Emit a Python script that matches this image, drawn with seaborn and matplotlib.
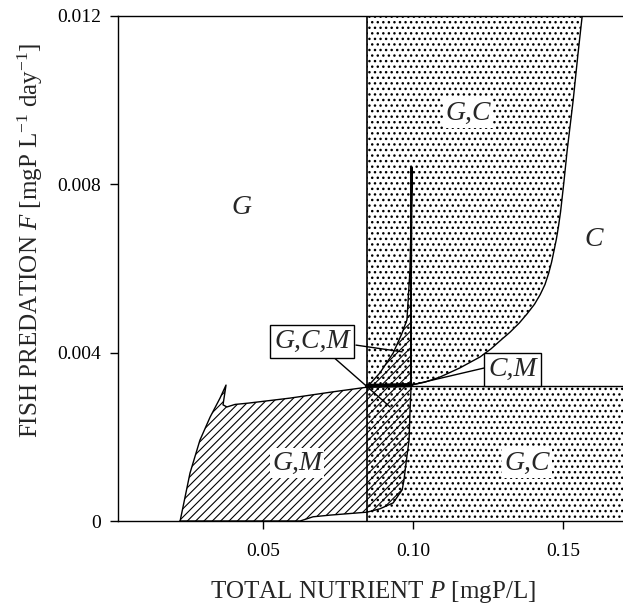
import matplotlib
matplotlib.use("Agg")
import matplotlib.pyplot as plt
import seaborn as sns

# ---------------- data ----------------
x_ticks = [0.05, 0.10, 0.15]
x_tick_labels = ["0.05", "0.10", "0.15"]
y_ticks = [0.0, 0.004, 0.008, 0.012]
y_tick_labels = ["0", "0.004", "0.008", "0.012"]

P_split = 0.0847     # vertical boundary (G,C region begins)
F_split = 0.00321    # horizontal boundary
P_spike = 0.0994     # right edge of G,C,M region
F_top = 0.012
P_right = 0.2

# C boundary curve (right edge of upper G,C region)
c_curve_P = [0.0994, 0.1040, 0.1090, 0.1157, 0.1224, 0.1260, 0.1290, 0.1324,
             0.1355, 0.1380, 0.1405, 0.1424, 0.1440, 0.1452, 0.1462, 0.1470,
             0.1478, 0.1485, 0.1492, 0.1503, 0.1514, 0.1534, 0.1550, 0.1564]
c_curve_F = [0.00323, 0.00330, 0.00342, 0.00364, 0.00390, 0.00409, 0.00428, 0.00449,
             0.00471, 0.00492, 0.00515, 0.00538, 0.00562, 0.00588, 0.00615, 0.00642,
             0.00670, 0.00700, 0.00735, 0.00805, 0.00881, 0.01000, 0.01110, 0.01200]

# M region boundary (G,M plus G,C,M), closed polygon
m_region_P = [0.0224, 0.0257, 0.0290, 0.0324, 0.0357, 0.0377, 0.0367, 0.0380,
              0.0407, 0.0450, 0.0590, 0.0734, 0.0847, 0.0890, 0.0934, 0.0964,
              0.0980, 0.0990, 0.0994, 0.0997, 0.0994, 0.0994, 0.0990, 0.0987,
              0.0977, 0.0970, 0.0964, 0.0934, 0.0890, 0.0847, 0.0724, 0.0667,
              0.0624, 0.0224]
m_region_F = [0.0, 0.00114, 0.00192, 0.00247, 0.00292, 0.00323, 0.00276, 0.00271,
              0.00277, 0.00280, 0.00292, 0.00307, 0.00318, 0.00352, 0.00399, 0.00447,
              0.00478, 0.00596, 0.00715, 0.00841, 0.00525, 0.00323, 0.00257, 0.00192,
              0.00138, 0.00097, 0.00074, 0.00043, 0.00029, 0.00021, 0.00014, 0.00010,
              0.0, 0.0]

# region labels
region_labels = ["G", "G,C", "C", "G,M", "G,C"]
region_P = [0.0427, 0.1184, 0.1604, 0.0614, 0.1380]
region_F = [0.00744, 0.00969, 0.00668, 0.00138, 0.00138]

# boxed labels and their leader lines
box_labels = ["G,C,M", "C,M"]
box_P = [0.0664, 0.1332]
box_F = [0.00426, 0.00360]
leader_P = [[0.0810, 0.0964], [0.0734, 0.0924], [0.1240, 0.0994]]
leader_F = [[0.00418, 0.00402], [0.00390, 0.00271], [0.00364, 0.00323]]

# ---------------- style ----------------
sns.set_style("ticks")
plt.rcParams["font.family"] = ["Liberation Serif", "DejaVu Serif"]
plt.rcParams["mathtext.fontset"] = "custom"
plt.rcParams["mathtext.rm"] = "Liberation Serif"
plt.rcParams["mathtext.it"] = "Liberation Serif:italic"
plt.rcParams["mathtext.bf"] = "Liberation Serif:bold"

fig = plt.figure(figsize=(6.23, 6.06), dpi=100)
ax = fig.add_axes([118 / 623, 85 / 606, 520 / 623, 505 / 606])

# dotted regions (G,C)
plt.rcParams["hatch.linewidth"] = 1.0
upper_P = [P_split, P_split] + c_curve_P[::-1]
upper_F = [F_split, F_top] + c_curve_F[::-1]
ax.fill(upper_P, upper_F, facecolor="white", edgecolor="black", linewidth=0, hatch="...")
ax.fill([P_split, P_split, P_right, P_right], [0, F_split, F_split, 0],
        facecolor="white", edgecolor="black", linewidth=0, hatch="...")

# hatched M region
plt.rcParams["hatch.linewidth"] = 0.8
ax.fill(m_region_P, m_region_F, facecolor="none", edgecolor="black", linewidth=0, hatch="////")

# boundary lines
line_kw = dict(color="black", sort=False, estimator=None, legend=False, ax=ax)
sns.lineplot(x=m_region_P, y=m_region_F, linewidth=1.0, **line_kw)
sns.lineplot(x=c_curve_P, y=c_curve_F, linewidth=1.0, **line_kw)
sns.lineplot(x=[P_split, P_split], y=[0, F_top], linewidth=1.2, **line_kw)
sns.lineplot(x=[P_split, P_right], y=[F_split, F_split], linewidth=1.0, **line_kw)
sns.lineplot(x=[P_spike, P_spike], y=[F_split, 0.00841], linewidth=1.4, **line_kw)
sns.lineplot(x=[P_split, P_spike], y=[F_split, 0.00323], linewidth=3.0, **line_kw)
for lp, lf in zip(leader_P, leader_F):
    sns.lineplot(x=lp, y=lf, linewidth=1.0, **line_kw)

# labels
for t, px, py in zip(region_labels, region_P, region_F):
    ax.text(px, py, t, fontsize=20, style="italic", ha="center", va="center",
            bbox=dict(boxstyle="square,pad=0.08", facecolor="white",
                      edgecolor="none"))
for t, px, py in zip(box_labels, box_P, box_F):
    ax.text(px, py, t, fontsize=20, style="italic", ha="center", va="center",
            bbox=dict(boxstyle="square,pad=0.15", facecolor="white",
                      edgecolor="black", linewidth=1.0))

ax.set_xlim(0.0017, 0.175)
ax.set_ylim(0, F_top)
ax.set_xticks(x_ticks)
ax.set_xticklabels(x_tick_labels)
ax.set_yticks(y_ticks)
ax.set_yticklabels(y_tick_labels)
ax.tick_params(axis="both", direction="out", length=6, width=1.0, labelsize=14,
               color="black", labelcolor="black")
ax.tick_params(axis="x", pad=10)
ax.tick_params(axis="y", pad=6)

for s in ["left", "bottom", "top"]:
    ax.spines[s].set_visible(True)
    ax.spines[s].set_color("black")
    ax.spines[s].set_linewidth(1.0)
ax.spines["right"].set_visible(False)

ax.set_xlabel("TOTAL NUTRIENT $P$ [mgP/L]", fontsize=18)
ax.set_ylabel("FISH PREDATION $F$ [mgP L$^{-1}$ day$^{-1}$]", fontsize=18)
ax.xaxis.set_label_coords(0.49, -0.14)
ax.xaxis.label.set_va("center")
ax.yaxis.set_label_coords(-0.169, 0.556)
ax.yaxis.label.set_va("center")

fig.savefig("out.png", dpi=100)
